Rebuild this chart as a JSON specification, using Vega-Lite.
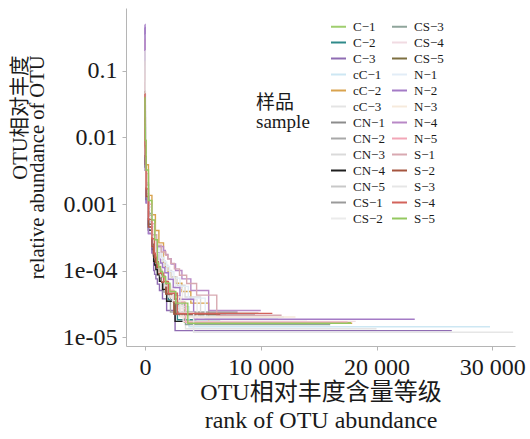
{
"$schema":"https://vega.github.io/schema/vega-lite/v6.json",
"width":389,"height":338,
"autosize":{"type":"none"},
"padding":{"left":126,"top":8,"right":15,"bottom":93},
"background":"white",
"config":{"view":{"stroke":null},"font":"Liberation Serif"},
"data":{"values":[
{"s":"C-1","r":1,"v":0.12},{"s":"C-1","r":3,"v":0.042},{"s":"C-1","r":10,"v":0.012},{"s":"C-1","r":30,"v":0.006},{"s":"C-1","r":100,"v":0.00195},{"s":"C-1","r":300,"v":0.000675},{"s":"C-1","r":600,"v":0.000345},{"s":"C-1","r":990,"v":0.000133},{"s":"C-1","r":1090,"v":0.000117},{"s":"C-1","r":1220,"v":0.0001},{"s":"C-1","r":1390,"v":0.0000833},{"s":"C-1","r":1630,"v":0.0000667},{"s":"C-1","r":1970,"v":0.00005},{"s":"C-1","r":2450,"v":0.0000333},{"s":"C-1","r":3400,"v":0.0000167},{"s":"C-1","r":17800,"v":0.0000167},
{"s":"C-2","r":1,"v":0.08},{"s":"C-2","r":3,"v":0.028},{"s":"C-2","r":10,"v":0.008},{"s":"C-2","r":30,"v":0.004},{"s":"C-2","r":100,"v":0.0013},{"s":"C-2","r":300,"v":0.00045},{"s":"C-2","r":600,"v":0.00023},{"s":"C-2","r":810,"v":0.000145},{"s":"C-2","r":900,"v":0.000127},{"s":"C-2","r":1010,"v":0.000109},{"s":"C-2","r":1150,"v":0.0000909},{"s":"C-2","r":1340,"v":0.0000727},{"s":"C-2","r":1620,"v":0.0000545},{"s":"C-2","r":2020,"v":0.0000364},{"s":"C-2","r":2800,"v":0.0000182},{"s":"C-2","r":6500,"v":0.0000182},
{"s":"C-3","r":1,"v":0.45},{"s":"C-3","r":3,"v":0.158},{"s":"C-3","r":10,"v":0.045},{"s":"C-3","r":30,"v":0.0032},{"s":"C-3","r":100,"v":0.00104},{"s":"C-3","r":300,"v":0.00036},{"s":"C-3","r":600,"v":0.000184},{"s":"C-3","r":750,"v":0.0001},{"s":"C-3","r":830,"v":0.0000875},{"s":"C-3","r":940,"v":0.000075},{"s":"C-3","r":1070,"v":0.0000625},{"s":"C-3","r":1250,"v":0.00005},{"s":"C-3","r":1510,"v":0.0000375},{"s":"C-3","r":1870,"v":0.000025},{"s":"C-3","r":2600,"v":0.0000125},{"s":"C-3","r":26500,"v":0.0000125},
{"s":"cC-1","r":1,"v":0.15},{"s":"cC-1","r":3,"v":0.0525},{"s":"cC-1","r":10,"v":0.015},{"s":"cC-1","r":30,"v":0.008},{"s":"cC-1","r":100,"v":0.0026},{"s":"cC-1","r":300,"v":0.0009},{"s":"cC-1","r":600,"v":0.00046},{"s":"cC-1","r":850,"v":0.00023},{"s":"cC-1","r":1100,"v":0.000114},{"s":"cC-1","r":1220,"v":0.0001},{"s":"cC-1","r":1370,"v":0.0000857},{"s":"cC-1","r":1560,"v":0.0000714},{"s":"cC-1","r":1820,"v":0.0000571},{"s":"cC-1","r":2200,"v":0.0000429},{"s":"cC-1","r":2740,"v":0.0000286},{"s":"cC-1","r":3800,"v":0.0000143},{"s":"cC-1","r":29800,"v":0.0000143},
{"s":"cC-2","r":1,"v":0.1},{"s":"cC-2","r":3,"v":0.035},{"s":"cC-2","r":10,"v":0.02},{"s":"cC-2","r":30,"v":0.009},{"s":"cC-2","r":100,"v":0.0039},{"s":"cC-2","r":300,"v":0.00135},{"s":"cC-2","r":600,"v":0.00069},{"s":"cC-2","r":900,"v":0.0004},{"s":"cC-2","r":1200,"v":0.00026},{"s":"cC-2","r":1600,"v":0.000129},{"s":"cC-2","r":1760,"v":0.000113},{"s":"cC-2","r":1980,"v":0.0000968},{"s":"cC-2","r":2260,"v":0.0000806},{"s":"cC-2","r":2640,"v":0.0000645},{"s":"cC-2","r":3190,"v":0.0000484},{"s":"cC-2","r":3960,"v":0.0000323},{"s":"cC-2","r":5500,"v":0.0000161},{"s":"cC-2","r":17900,"v":0.0000161},
{"s":"cC-3","r":1,"v":0.2},{"s":"cC-3","r":3,"v":0.07},{"s":"cC-3","r":10,"v":0.02},{"s":"cC-3","r":30,"v":0.0048},{"s":"cC-3","r":100,"v":0.00156},{"s":"cC-3","r":300,"v":0.00054},{"s":"cC-3","r":600,"v":0.000276},{"s":"cC-3","r":800,"v":0.00017},{"s":"cC-3","r":1020,"v":0.000107},{"s":"cC-3","r":1120,"v":0.0000933},{"s":"cC-3","r":1260,"v":0.00008},{"s":"cC-3","r":1440,"v":0.0000667},{"s":"cC-3","r":1680,"v":0.0000533},{"s":"cC-3","r":2030,"v":0.00004},{"s":"cC-3","r":2520,"v":0.0000267},{"s":"cC-3","r":3500,"v":0.0000133},{"s":"cC-3","r":20000,"v":0.0000133},
{"s":"CN-1","r":1,"v":0.25},{"s":"CN-1","r":3,"v":0.0875},{"s":"CN-1","r":10,"v":0.025},{"s":"CN-1","r":30,"v":0.004},{"s":"CN-1","r":100,"v":0.0013},{"s":"CN-1","r":300,"v":0.00045},{"s":"CN-1","r":600,"v":0.00023},{"s":"CN-1","r":725,"v":0.000178},{"s":"CN-1","r":800,"v":0.000156},{"s":"CN-1","r":900,"v":0.000133},{"s":"CN-1","r":1025,"v":0.000111},{"s":"CN-1","r":1200,"v":0.0000889},{"s":"CN-1","r":1450,"v":0.0000667},{"s":"CN-1","r":1800,"v":0.0000444},{"s":"CN-1","r":2500,"v":0.0000222},{"s":"CN-1","r":9500,"v":0.0000222},
{"s":"CN-2","r":1,"v":0.18},{"s":"CN-2","r":3,"v":0.063},{"s":"CN-2","r":10,"v":0.018},{"s":"CN-2","r":30,"v":0.0044},{"s":"CN-2","r":100,"v":0.00143},{"s":"CN-2","r":300,"v":0.000495},{"s":"CN-2","r":600,"v":0.000253},{"s":"CN-2","r":640,"v":0.00019},{"s":"CN-2","r":700,"v":0.000167},{"s":"CN-2","r":790,"v":0.000143},{"s":"CN-2","r":900,"v":0.000119},{"s":"CN-2","r":1060,"v":0.0000952},{"s":"CN-2","r":1280,"v":0.0000714},{"s":"CN-2","r":1580,"v":0.0000476},{"s":"CN-2","r":2200,"v":0.0000238},{"s":"CN-2","r":8000,"v":0.0000238},
{"s":"CN-3","r":1,"v":0.22},{"s":"CN-3","r":3,"v":0.077},{"s":"CN-3","r":10,"v":0.022},{"s":"CN-3","r":30,"v":0.0052},{"s":"CN-3","r":100,"v":0.00169},{"s":"CN-3","r":300,"v":0.000585},{"s":"CN-3","r":600,"v":0.0003},{"s":"CN-3","r":1000,"v":0.00022},{"s":"CN-3","r":1390,"v":0.00016},{"s":"CN-3","r":1540,"v":0.00014},{"s":"CN-3","r":1730,"v":0.00012},{"s":"CN-3","r":1970,"v":0.0001},{"s":"CN-3","r":2300,"v":0.00008},{"s":"CN-3","r":2780,"v":0.00006},{"s":"CN-3","r":3460,"v":0.00004},{"s":"CN-3","r":4800,"v":0.00002},{"s":"CN-3","r":12000,"v":0.00002},
{"s":"CN-4","r":1,"v":0.06},{"s":"CN-4","r":3,"v":0.021},{"s":"CN-4","r":10,"v":0.006},{"s":"CN-4","r":30,"v":0.0036},{"s":"CN-4","r":100,"v":0.00117},{"s":"CN-4","r":300,"v":0.000405},{"s":"CN-4","r":600,"v":0.000207},{"s":"CN-4","r":750,"v":0.000138},{"s":"CN-4","r":830,"v":0.000121},{"s":"CN-4","r":940,"v":0.000103},{"s":"CN-4","r":1070,"v":0.0000862},{"s":"CN-4","r":1250,"v":0.000069},{"s":"CN-4","r":1510,"v":0.0000517},{"s":"CN-4","r":1870,"v":0.0000345},{"s":"CN-4","r":2600,"v":0.0000172},{"s":"CN-4","r":4200,"v":0.0000172},
{"s":"CN-5","r":1,"v":0.3},{"s":"CN-5","r":3,"v":0.105},{"s":"CN-5","r":10,"v":0.03},{"s":"CN-5","r":30,"v":0.0048},{"s":"CN-5","r":100,"v":0.00156},{"s":"CN-5","r":300,"v":0.00054},{"s":"CN-5","r":600,"v":0.000276},{"s":"CN-5","r":870,"v":0.000167},{"s":"CN-5","r":960,"v":0.000146},{"s":"CN-5","r":1080,"v":0.000125},{"s":"CN-5","r":1230,"v":0.000104},{"s":"CN-5","r":1440,"v":0.0000833},{"s":"CN-5","r":1740,"v":0.0000625},{"s":"CN-5","r":2160,"v":0.0000417},{"s":"CN-5","r":3000,"v":0.0000208},{"s":"CN-5","r":10500,"v":0.0000208},
{"s":"CS-1","r":1,"v":0.2},{"s":"CS-1","r":3,"v":0.07},{"s":"CS-1","r":10,"v":0.02},{"s":"CS-1","r":30,"v":0.004},{"s":"CS-1","r":100,"v":0.0013},{"s":"CS-1","r":300,"v":0.00045},{"s":"CS-1","r":600,"v":0.00023},{"s":"CS-1","r":780,"v":0.000174},{"s":"CS-1","r":860,"v":0.000152},{"s":"CS-1","r":970,"v":0.00013},{"s":"CS-1","r":1110,"v":0.000109},{"s":"CS-1","r":1300,"v":0.000087},{"s":"CS-1","r":1570,"v":0.0000652},{"s":"CS-1","r":1940,"v":0.0000435},{"s":"CS-1","r":2700,"v":0.0000217},{"s":"CS-1","r":7000,"v":0.0000217},
{"s":"CS-2","r":1,"v":0.35},{"s":"CS-2","r":3,"v":0.1225},{"s":"CS-2","r":10,"v":0.035},{"s":"CS-2","r":30,"v":0.0056},{"s":"CS-2","r":100,"v":0.00182},{"s":"CS-2","r":300,"v":0.00063},{"s":"CS-2","r":600,"v":0.000322},{"s":"CS-2","r":950,"v":0.00021},{"s":"CS-2","r":1300,"v":0.000145},{"s":"CS-2","r":1440,"v":0.000127},{"s":"CS-2","r":1620,"v":0.000109},{"s":"CS-2","r":1850,"v":0.0000909},{"s":"CS-2","r":2160,"v":0.0000727},{"s":"CS-2","r":2610,"v":0.0000545},{"s":"CS-2","r":3240,"v":0.0000364},{"s":"CS-2","r":4500,"v":0.0000182},{"s":"CS-2","r":14000,"v":0.0000182},
{"s":"CS-3","r":1,"v":0.16},{"s":"CS-3","r":3,"v":0.056},{"s":"CS-3","r":10,"v":0.016},{"s":"CS-3","r":30,"v":0.0064},{"s":"CS-3","r":100,"v":0.00208},{"s":"CS-3","r":300,"v":0.00072},{"s":"CS-3","r":600,"v":0.000368},{"s":"CS-3","r":800,"v":0.00021},{"s":"CS-3","r":1020,"v":0.000123},{"s":"CS-3","r":1120,"v":0.000108},{"s":"CS-3","r":1260,"v":0.0000923},{"s":"CS-3","r":1440,"v":0.0000769},{"s":"CS-3","r":1680,"v":0.0000615},{"s":"CS-3","r":2030,"v":0.0000462},{"s":"CS-3","r":2520,"v":0.0000308},{"s":"CS-3","r":3500,"v":0.0000154},{"s":"CS-3","r":16000,"v":0.0000154},
{"s":"CS-4","r":1,"v":0.1},{"s":"CS-4","r":3,"v":0.035},{"s":"CS-4","r":10,"v":0.013},{"s":"CS-4","r":30,"v":0.008},{"s":"CS-4","r":100,"v":0.0026},{"s":"CS-4","r":300,"v":0.0009},{"s":"CS-4","r":600,"v":0.00046},{"s":"CS-4","r":800,"v":0.00026},{"s":"CS-4","r":960,"v":0.000138},{"s":"CS-4","r":1060,"v":0.000121},{"s":"CS-4","r":1190,"v":0.000103},{"s":"CS-4","r":1350,"v":0.0000862},{"s":"CS-4","r":1580,"v":0.000069},{"s":"CS-4","r":1910,"v":0.0000517},{"s":"CS-4","r":2380,"v":0.0000345},{"s":"CS-4","r":3300,"v":0.0000172},{"s":"CS-4","r":18200,"v":0.0000172},
{"s":"CS-5","r":1,"v":0.07},{"s":"CS-5","r":3,"v":0.0245},{"s":"CS-5","r":10,"v":0.007},{"s":"CS-5","r":30,"v":0.0044},{"s":"CS-5","r":100,"v":0.00143},{"s":"CS-5","r":300,"v":0.000495},{"s":"CS-5","r":600,"v":0.000253},{"s":"CS-5","r":750,"v":0.000182},{"s":"CS-5","r":830,"v":0.000159},{"s":"CS-5","r":940,"v":0.000136},{"s":"CS-5","r":1070,"v":0.000114},{"s":"CS-5","r":1250,"v":0.0000909},{"s":"CS-5","r":1510,"v":0.0000682},{"s":"CS-5","r":1870,"v":0.0000455},{"s":"CS-5","r":2600,"v":0.0000227},{"s":"CS-5","r":9800,"v":0.0000227},
{"s":"N-1","r":1,"v":0.28},{"s":"N-1","r":3,"v":0.098},{"s":"N-1","r":10,"v":0.028},{"s":"N-1","r":30,"v":0.0052},{"s":"N-1","r":100,"v":0.00169},{"s":"N-1","r":300,"v":0.000585},{"s":"N-1","r":600,"v":0.0003},{"s":"N-1","r":1000,"v":0.00021},{"s":"N-1","r":1510,"v":0.000154},{"s":"N-1","r":1660,"v":0.000135},{"s":"N-1","r":1870,"v":0.000115},{"s":"N-1","r":2130,"v":0.0000962},{"s":"N-1","r":2500,"v":0.0000769},{"s":"N-1","r":3020,"v":0.0000577},{"s":"N-1","r":3740,"v":0.0000385},{"s":"N-1","r":5200,"v":0.0000192},{"s":"N-1","r":11500,"v":0.0000192},
{"s":"N-2","r":1,"v":0.5},{"s":"N-2","r":3,"v":0.175},{"s":"N-2","r":10,"v":0.05},{"s":"N-2","r":30,"v":0.0032},{"s":"N-2","r":100,"v":0.00104},{"s":"N-2","r":300,"v":0.00036},{"s":"N-2","r":600,"v":0.000184},{"s":"N-2","r":1220,"v":0.000148},{"s":"N-2","r":1340,"v":0.00013},{"s":"N-2","r":1510,"v":0.000111},{"s":"N-2","r":1720,"v":0.0000926},{"s":"N-2","r":2020,"v":0.0000741},{"s":"N-2","r":2440,"v":0.0000556},{"s":"N-2","r":3020,"v":0.000037},{"s":"N-2","r":4200,"v":0.0000185},{"s":"N-2","r":23300,"v":0.0000185},
{"s":"N-3","r":1,"v":0.12},{"s":"N-3","r":3,"v":0.042},{"s":"N-3","r":10,"v":0.012},{"s":"N-3","r":30,"v":0.0072},{"s":"N-3","r":100,"v":0.00234},{"s":"N-3","r":300,"v":0.00081},{"s":"N-3","r":600,"v":0.000414},{"s":"N-3","r":750,"v":0.00026},{"s":"N-3","r":900,"v":0.00016},{"s":"N-3","r":990,"v":0.00014},{"s":"N-3","r":1120,"v":0.00012},{"s":"N-3","r":1270,"v":0.0001},{"s":"N-3","r":1490,"v":0.00008},{"s":"N-3","r":1800,"v":0.00006},{"s":"N-3","r":2230,"v":0.00004},{"s":"N-3","r":3100,"v":0.00002},{"s":"N-3","r":13000,"v":0.00002},
{"s":"N-4","r":1,"v":0.3},{"s":"N-4","r":3,"v":0.105},{"s":"N-4","r":10,"v":0.03},{"s":"N-4","r":30,"v":0.004},{"s":"N-4","r":100,"v":0.0013},{"s":"N-4","r":300,"v":0.00045},{"s":"N-4","r":600,"v":0.00023},{"s":"N-4","r":1600,"v":0.0002},{"s":"N-4","r":1760,"v":0.000175},{"s":"N-4","r":1980,"v":0.00015},{"s":"N-4","r":2260,"v":0.000125},{"s":"N-4","r":2640,"v":0.0001},{"s":"N-4","r":3190,"v":0.000075},{"s":"N-4","r":3960,"v":0.00005},{"s":"N-4","r":5500,"v":0.000025},{"s":"N-4","r":10000,"v":0.000025},
{"s":"N-5","r":1,"v":0.09},{"s":"N-5","r":3,"v":0.0315},{"s":"N-5","r":10,"v":0.014},{"s":"N-5","r":30,"v":0.0088},{"s":"N-5","r":100,"v":0.00286},{"s":"N-5","r":300,"v":0.00099},{"s":"N-5","r":600,"v":0.000506},{"s":"N-5","r":850,"v":0.00026},{"s":"N-5","r":1020,"v":0.000133},{"s":"N-5","r":1120,"v":0.000117},{"s":"N-5","r":1260,"v":0.0001},{"s":"N-5","r":1440,"v":0.0000833},{"s":"N-5","r":1680,"v":0.0000667},{"s":"N-5","r":2030,"v":0.00005},{"s":"N-5","r":2520,"v":0.0000333},{"s":"N-5","r":3500,"v":0.0000167},{"s":"N-5","r":17500,"v":0.0000167},
{"s":"S-1","r":1,"v":0.14},{"s":"S-1","r":3,"v":0.049},{"s":"S-1","r":10,"v":0.014},{"s":"S-1","r":30,"v":0.006},{"s":"S-1","r":100,"v":0.00195},{"s":"S-1","r":300,"v":0.000675},{"s":"S-1","r":600,"v":0.000345},{"s":"S-1","r":1000,"v":0.00024},{"s":"S-1","r":1400,"v":0.00019},{"s":"S-1","r":1800,"v":0.00017},{"s":"S-1","r":1980,"v":0.000149},{"s":"S-1","r":2230,"v":0.000128},{"s":"S-1","r":2540,"v":0.000106},{"s":"S-1","r":2980,"v":0.0000851},{"s":"S-1","r":3600,"v":0.0000638},{"s":"S-1","r":4460,"v":0.0000426},{"s":"S-1","r":6200,"v":0.0000213},{"s":"S-1","r":11800,"v":0.0000213},
{"s":"S-2","r":1,"v":0.05},{"s":"S-2","r":3,"v":0.0175},{"s":"S-2","r":10,"v":0.007},{"s":"S-2","r":30,"v":0.004},{"s":"S-2","r":100,"v":0.0013},{"s":"S-2","r":300,"v":0.00045},{"s":"S-2","r":600,"v":0.00023},{"s":"S-2","r":725,"v":0.000178},{"s":"S-2","r":800,"v":0.000156},{"s":"S-2","r":900,"v":0.000133},{"s":"S-2","r":1025,"v":0.000111},{"s":"S-2","r":1200,"v":0.0000889},{"s":"S-2","r":1450,"v":0.0000667},{"s":"S-2","r":1800,"v":0.0000444},{"s":"S-2","r":2500,"v":0.0000222},{"s":"S-2","r":6500,"v":0.0000222},
{"s":"S-3","r":1,"v":0.2},{"s":"S-3","r":3,"v":0.07},{"s":"S-3","r":10,"v":0.02},{"s":"S-3","r":30,"v":0.0056},{"s":"S-3","r":100,"v":0.00182},{"s":"S-3","r":300,"v":0.00063},{"s":"S-3","r":600,"v":0.000322},{"s":"S-3","r":900,"v":0.00018},{"s":"S-3","r":1220,"v":0.0000941},{"s":"S-3","r":1340,"v":0.0000824},{"s":"S-3","r":1510,"v":0.0000706},{"s":"S-3","r":1720,"v":0.0000588},{"s":"S-3","r":2020,"v":0.0000471},{"s":"S-3","r":2440,"v":0.0000353},{"s":"S-3","r":3020,"v":0.0000235},{"s":"S-3","r":4200,"v":0.0000118},{"s":"S-3","r":31800,"v":0.0000118},
{"s":"S-4","r":1,"v":0.045},{"s":"S-4","r":3,"v":0.0158},{"s":"S-4","r":10,"v":0.0075},{"s":"S-4","r":30,"v":0.0052},{"s":"S-4","r":100,"v":0.00169},{"s":"S-4","r":300,"v":0.000585},{"s":"S-4","r":600,"v":0.0003},{"s":"S-4","r":810,"v":0.000182},{"s":"S-4","r":900,"v":0.000159},{"s":"S-4","r":1010,"v":0.000136},{"s":"S-4","r":1150,"v":0.000114},{"s":"S-4","r":1340,"v":0.0000909},{"s":"S-4","r":1620,"v":0.0000682},{"s":"S-4","r":2020,"v":0.0000455},{"s":"S-4","r":2800,"v":0.0000227},{"s":"S-4","r":11000,"v":0.0000227},
{"s":"S-5","r":1,"v":0.04},{"s":"S-5","r":3,"v":0.022},{"s":"S-5","r":10,"v":0.014},{"s":"S-5","r":30,"v":0.009},{"s":"S-5","r":100,"v":0.00325},{"s":"S-5","r":300,"v":0.00113},{"s":"S-5","r":600,"v":0.000575},{"s":"S-5","r":850,"v":0.00029},{"s":"S-5","r":1070,"v":0.000129},{"s":"S-5","r":1180,"v":0.000113},{"s":"S-5","r":1330,"v":0.0000968},{"s":"S-5","r":1520,"v":0.0000806},{"s":"S-5","r":1780,"v":0.0000645},{"s":"S-5","r":2150,"v":0.0000484},{"s":"S-5","r":2660,"v":0.0000323},{"s":"S-5","r":3700,"v":0.0000161},{"s":"S-5","r":17800,"v":0.0000161}
]},
"mark":{"type":"line","interpolate":"step-after","strokeWidth":1.4,"clip":true},
"encoding":{
"x":{"field":"r","type":"quantitative","scale":{"domain":[-1640,31960],"nice":false,"zero":false},
"axis":{"title":["OTU相对丰度含量等级","rank of OTU abundance"],"values":[0,10000,20000,30000],"labelExpr":"datum.value == 0 ? '0' : format(datum.value/1000,'d') + ' 000'","grid":false,"domainColor":"#b5b5b5","tickColor":"#b5b5b5","tickSize":4,"labelFont":"Liberation Serif","labelFontSize":24,"labelColor":"#1a1a1a","labelPadding":5,"titleFont":"Liberation Serif, Noto Sans CJK SC","titleFontSize":24,"titleFontWeight":"normal","titleColor":"#1a1a1a","titleLineHeight":28,"titleBaseline":"alphabetic","titleY":53}},
"y":{"field":"v","type":"quantitative","scale":{"type":"log","domain":[0.00000733,0.885],"nice":false},
"axis":{"title":["OTU相对丰度","relative abundance of OTU"],"values":[0.00001,0.0001,0.001,0.01,0.1],"labelExpr":"datum.value > 0.05 ? '0.1' : datum.value > 0.005 ? '0.01' : datum.value > 0.0005 ? '0.001' : datum.value > 0.00005 ? '1e-04' : '1e-05'","grid":false,"domainColor":"#b5b5b5","tickColor":"#b5b5b5","tickSize":4,"labelFont":"Liberation Serif","labelFontSize":24,"labelColor":"#1a1a1a","labelPadding":5,"titleFont":"Liberation Serif, Noto Sans CJK SC","titleFontSize":20.5,"titleFontWeight":"normal","titleColor":"#1a1a1a","titleAngle":270,"titleAlign":"right","titleBaseline":"alphabetic","titleLineHeight":17,"titleX":-100,"titleY":47}},
"color":{"field":"s","type":"nominal",
"scale":{"domain":["C-1","C-2","C-3","cC-1","cC-2","cC-3","CN-1","CN-2","CN-3","CN-4","CN-5","CS-1","CS-2","CS-3","CS-4","CS-5","N-1","N-2","N-3","N-4","N-5","S-1","S-2","S-3","S-4","S-5"],
"range":["#9fce6e","#2f8a8a","#8f6cb3","#cde7f3","#d9a34e","#e4e4e4","#8c8c8c","#a8a8a8","#dadada","#1e1e1e","#c8c8c8","#9a9a9a","#ebebeb","#8fa59b","#f1dbe2","#7d6f40","#e2edf7","#a47bc6","#f6eadc","#b888c6","#f2a6b7","#d8a9b1","#a5553f","#e6e6e6","#d3635b","#94c860"]},
"legend":{"orient":"none","legendX":130,"legendY":10,"columns":2,"padding":0,"title":["样品","sample",""],"titleOrient":"left","titleAnchor":"middle","titleFont":"Liberation Serif, Noto Sans CJK SC","titleFontSize":19,"titleFontWeight":"normal","titleColor":"#1a1a1a","titleLineHeight":19,"titlePadding":20,"labelFont":"Liberation Serif","labelFontSize":13,"labelColor":"#1a1a1a","labelOffset":6,"symbolType":"stroke","symbolSize":225,"symbolStrokeWidth":2,"rowPadding":0,"columnPadding":3,"labelExpr":"replace(datum.label, '-', '−')"}}
}
}
